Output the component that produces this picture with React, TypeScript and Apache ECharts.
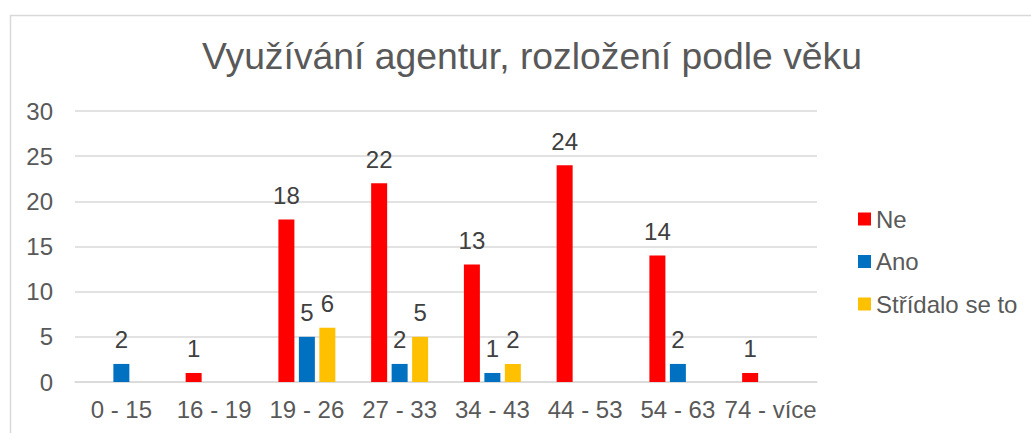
import React, { useEffect, useRef } from "react";
import * as echarts from "echarts";

const categories = ["0 - 15", "16 - 19", "19 - 26", "27 - 33", "34 - 43", "44 - 53", "54 - 63", "74 - více"];
const neValues = [0, 1, 18, 22, 13, 24, 14, 1];
const anoValues = [2, 0, 5, 2, 1, 0, 2, 0];
const stridaloValues = [0, 0, 6, 5, 2, 0, 0, 0];
const yTicks = { min: 0, max: 30, interval: 5 };

const FONT = "'Liberation Sans', Arial, sans-serif";
const TEXT = "#595959";

export default function App() {
  const ref = useRef<HTMLDivElement>(null);
  useEffect(() => {
    if (!ref.current) return;
    const chart = echarts.init(ref.current, undefined, { renderer: "svg" });
    const label = {
      show: true,
      position: "top",
      distance: 12,
      color: "#404040",
      fontSize: 24,
      fontFamily: FONT,
      formatter: (p: any) => (p.value ? String(p.value) : ""),
    };
    const mk = (name: string, data: number[], color: string) => ({
      name,
      type: "bar",
      data,
      itemStyle: { color },
      barWidth: 16,
      barGap: "28%",
      label,
    });
    chart.setOption({
      animation: false,
      backgroundColor: "#ffffff",
      textStyle: { fontFamily: FONT },
      title: {
        text: "Využívání agentur, rozložení podle věku",
        left: 527,
        textAlign: "center",
        top: 32,
        textStyle: { fontSize: 37.3, fontWeight: "normal", color: TEXT, fontFamily: FONT },
      },
      graphic: [
        {
          type: "rect",
          shape: { x: 10.5, y: 15.5, width: 1100, height: 600 },
          style: { fill: "none", stroke: "#D9D9D9", lineWidth: 1.5 },
          silent: true,
        },
      ],
      legend: {
        orient: "vertical",
        left: 858,
        top: 207,
        padding: 0,
        itemWidth: 13,
        itemHeight: 13,
        itemGap: 18.5,
        icon: "rect",
        textStyle: { fontSize: 24, color: TEXT, fontFamily: FONT },
        data: ["Ne", "Ano", "Střídalo se to"],
      },
      grid: { left: 75, right: 214, top: 111, bottom: 51, containLabel: false },
      xAxis: {
        type: "category",
        data: categories,
        axisLine: { lineStyle: { color: "#D9D9D9", width: 1.5 } },
        axisTick: { show: false },
        axisLabel: { color: TEXT, fontSize: 24, margin: 15, fontFamily: FONT, interval: 0 },
      },
      yAxis: {
        type: "value",
        min: yTicks.min,
        max: yTicks.max,
        interval: yTicks.interval,
        axisLine: { show: false },
        axisTick: { show: false },
        splitLine: { lineStyle: { color: "#D9D9D9", width: 1.5 } },
        axisLabel: { color: TEXT, fontSize: 24, margin: 22, fontFamily: FONT },
      },
      series: [
        mk("Ne", neValues, "#FF0000"),
        mk("Ano", anoValues, "#0070C0"),
        mk("Střídalo se to", stridaloValues, "#FFC000"),
      ],
    });
    return () => chart.dispose();
  }, []);
  return (
    <div
      ref={ref}
      style={{ position: "fixed", left: 0, top: 0, width: 1031, height: 433, background: "#fff" }}
    />
  );
}
